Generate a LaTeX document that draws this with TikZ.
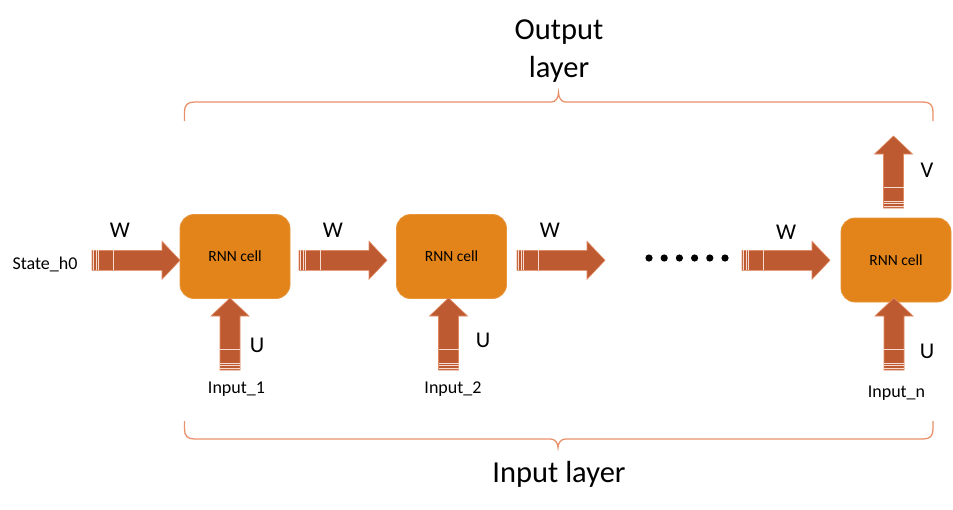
\documentclass[tikz,border=0pt]{standalone}
\usepackage{fontspec}
\setmainfont{Carlito}
\usetikzlibrary{positioning}

\definecolor{cellfill}{HTML}{E3841A}
\definecolor{arrowfill}{HTML}{BE5A31}
\definecolor{arrowedge}{HTML}{E08A62}
\definecolor{bracecol}{HTML}{E8916B}

\tikzset{
  cell/.style={fill=cellfill, draw=cellfill!85!white, line width=0.8, rounded corners=14,
    minimum width=110, minimum height=84, font=\fontsize{15.5}{18}\selectfont},
  weight/.style={font=\fontsize{22.5}{26}\selectfont},
  inlabel/.style={font=\fontsize{18}{21}\selectfont},
  layer/.style={font=\fontsize{30.5}{38}\selectfont, align=center},
  brace/.style={draw=bracecol, line width=1.3},
  stripe/.style={draw=white!70!arrowedge, line width=1}
}

\begin{document}
\begin{tikzpicture}[x=1pt, y=-1pt]

\def\blockarrow(#1,#2,#3,#4){
  \begin{scope}[shift={(#1,#2)}, rotate=#3]
    \filldraw[fill=arrowfill, draw=arrowedge, line width=0.6]
      (0,-10) -- (#4-18,-10) -- (#4-18,-19) -- (#4,0) -- (#4-18,19) -- (#4-18,10) -- (0,10) -- cycle;
    \foreach \s in {1.8,4.2,6.6,21}
      \draw[stripe] (\s,-10) -- (\s,10);
  \end{scope}
}

\fill[white] (0,0) rectangle (953,509);
\useasboundingbox (0,0) rectangle (953,509);

% cells
\node[cell] (cell1) at (235,256.5) {RNN cell};
\node[cell] (cell2) at (451.5,256.5) {RNN cell};
\node[cell] (celln) at (896,260) {RNN cell};

% recurrent arrows
\blockarrow(92,260.3,0,88);
\blockarrow(299,260.3,0,88);
\blockarrow(517,260.3,0,88);
\blockarrow(742,260.3,0,88);

% input and output arrows
\blockarrow(230,370,90,72);
\blockarrow(448.5,370,90,72);
\blockarrow(894,370,90,72);
\blockarrow(893.5,208,90,72);

\foreach \i in {0,...,5}
  \fill (649+\i*15.2,258) circle (3.6);

% labels
\node[weight] (w1) at (120,230) {W};
\node[weight] (w2) at (333,230) {W};
\node[weight] (w3) at (550,230) {W};
\node[weight] (w4) at (786,232) {W};
\node[weight] (u1) at (257,345) {U};
\node[weight] (u2) at (483,340) {U};
\node[weight] (un) at (927,351) {U};
\node[weight] (v) at (927,170) {V};

\node[inlabel] (h0) at (45,264) {State\_h0};
\node[inlabel] (in1) at (236.5,389) {Input\_1};
\node[inlabel] (in2) at (453,389) {Input\_2};
\node[inlabel] (inn) at (896.5,393) {Input\_n};

% braces
\draw[brace] (184.5,121) -- (184.5,112) .. controls (184.5,105) and (187.5,102) .. (194.5,102)
  -- (551.5,102) .. controls (555.5,102) and (558.5,98) .. (558.5,92.5)
  .. controls (558.5,98) and (561.5,102) .. (565.5,102)
  -- (923,102) .. controls (930,102) and (933,105) .. (933,112) -- (933,121);
\draw[brace] (184.5,421) -- (184.5,429) .. controls (184.5,436) and (187.5,439) .. (194.5,439)
  -- (550.5,439) .. controls (555,439) and (558,443) .. (558,447.5)
  .. controls (558,443) and (561,439) .. (565.5,439)
  -- (923,439) .. controls (930,439) and (933,436) .. (933,429) -- (933,421);

\node[layer] (outlayer) at (559,51) {Output\\layer};
\node[layer] (inlayer) at (559,474) {Input layer};

\end{tikzpicture}
\end{document}
